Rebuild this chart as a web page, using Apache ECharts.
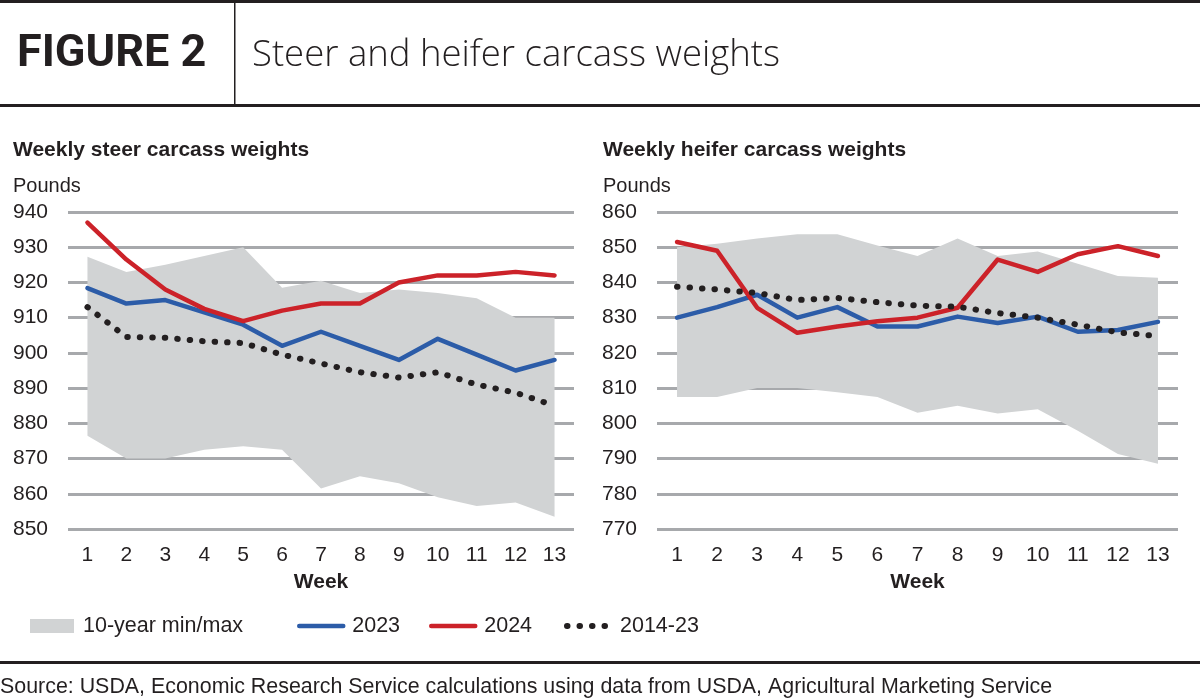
<!DOCTYPE html>
<html>
<head>
<meta charset="utf-8">
<script src="https://cdn.jsdelivr.net/npm/echarts@6/dist/echarts.min.js"></script>
<style>
	html, body { margin: 0; padding: 0; background: #fff; }
	#chart { width: 1200px; height: 699px; }
</style>
</head>
<body>
<div id="chart"></div>
<script>
// weeks 1-13
let weeks = ["1", "2", "3", "4", "5", "6", "7", "8", "9", "10", "11", "12", "13"];

// steers, pounds
let steerMin = [876.5, 870, 870, 872.5, 873.5, 872.5, 861.5, 865, 863, 859, 856.5, 857.5, 853.5];
let steerMax = [927.3, 923, 925, 927.5, 930, 918.5, 920.5, 917, 918, 917, 915.5, 910, 910];
let steer2023 = [918.4, 914, 915, 911.5, 908, 902, 906, 902, 898, 904, 899.5, 895, 898];
let steer2024 = [937, 926.5, 918, 912.5, 909, 912, 914, 914, 920, 922, 922, 923, 922];
let steerAvg = [913, 904.5, 904.3, 903.3, 902.8, 899.5, 897, 894.5, 893, 894.5, 891, 888.7, 885];

// heifers, pounds
let heiferMin = [807.5, 807.5, 810, 810, 808.8, 807.5, 803, 805, 802.8, 804, 797.9, 791.3, 788.5];
let heiferMax = [850, 851, 852.5, 853.7, 853.7, 850.5, 847.5, 852.5, 847.5, 848.8, 845.3, 841.8, 841.3];
let heifer2023 = [830, 833, 836.5, 830, 833, 827.5, 827.5, 830.3, 828.5, 830.3, 826, 826.5, 828.8];
let heifer2024 = [851.5, 849, 832.8, 825.7, 827.5, 829, 830, 832.8, 846.5, 843, 848, 850.3, 847.5];
let heiferAvg = [838.8, 838, 837, 835, 835.6, 834.4, 833.4, 833.1, 831.3, 830, 828, 825.8, 824.8];

let steerTicks = [850, 940, 10];
let heiferTicks = [770, 860, 10];

let ink = "#231f20";
let blue = "#2c5ca8";
let red = "#cc2229";
let band = "#d1d3d4";
let grid = "#a7a9ac";
let font = "Liberation Sans";

let chart = echarts.init(document.getElementById("chart"));

function makeX(idx) {
	return {
		type: "category",
		gridIndex: idx,
		data: weeks,
		boundaryGap: true,
		axisLine: { show: false },
		axisTick: { show: false },
		axisLabel: { color: ink, fontSize: 21, fontFamily: font, margin: 16 },
		name: "Week",
		nameLocation: "middle",
		nameGap: 43,
		nameTextStyle: { color: ink, fontSize: 21, fontWeight: "bold", fontFamily: font }
	};
}

function makeY(idx, ticks) {
	return {
		type: "value",
		gridIndex: idx,
		min: ticks[0],
		max: ticks[1],
		interval: ticks[2],
		axisLine: { show: false },
		axisTick: { show: false },
		axisLabel: { color: ink, fontSize: 21, fontFamily: font, margin: 20 },
		splitLine: { lineStyle: { color: grid, width: 3 } }
	};
}

// one chart = band (stacked) + 3 lines
function makeSeries(idx, mins, maxs, s23, s24, avg) {
	let stackName = "band" + idx;
	return [
		{
			name: "base" + idx, type: "line", xAxisIndex: idx, yAxisIndex: idx,
			stack: stackName, data: mins, symbol: "none", silent: true,
			lineStyle: { opacity: 0, width: 0 }
		},
		{
			name: "10-year min/max", type: "line", xAxisIndex: idx, yAxisIndex: idx,
			stack: stackName, data: maxs.map(function(v, i) { return +(v - mins[i]).toFixed(1); }),
			symbol: "none", color: band, silent: true,
			lineStyle: { opacity: 0, width: 0 },
			areaStyle: { color: band, opacity: 1 }
		},
		{
			name: "2023", type: "line", xAxisIndex: idx, yAxisIndex: idx,
			data: s23, symbol: "none", color: blue,
			lineStyle: { color: blue, width: 4.5, cap: "round", join: "round" }
		},
		{
			name: "2024", type: "line", xAxisIndex: idx, yAxisIndex: idx,
			data: s24, symbol: "none", color: red,
			lineStyle: { color: red, width: 4.5, cap: "round", join: "round" }
		},
		{
			name: "2014-23", type: "line", xAxisIndex: idx, yAxisIndex: idx,
			data: avg, symbol: "none", color: ink,
			lineStyle: { color: ink, width: 6, type: [0.5, 12], cap: "round" }
		}
	];
}

// separate legends so each item sits where the original has it
function makeLegend(left, item, hideSymbol) {
	return {
		left: left,
		top: 615,
		padding: 0,
		data: [item],
		itemWidth: 44,
		itemHeight: 14,
		itemGap: 0,
		selectedMode: false,
		textStyle: { color: ink, fontSize: 21.5, fontFamily: font, padding: [0, 0, 0, 4] },
		itemStyle: hideSymbol ? { opacity: 0 } : {},
		lineStyle: { width: item.name == "2014-23" ? 6 : 4.5 }
	};
}

let option = {
	animation: false,
	backgroundColor: "#fff",
	title: [
		{ text: "Weekly steer carcass weights", left: 8, top: 135,
			textStyle: { color: ink, fontSize: 21, fontWeight: "bold", fontFamily: font } },
		{ text: "Pounds", left: 8, top: 171,
			textStyle: { color: ink, fontSize: 20, fontWeight: "normal", fontFamily: font } },
		{ text: "Weekly heifer carcass weights", left: 598, top: 135,
			textStyle: { color: ink, fontSize: 21, fontWeight: "bold", fontFamily: font } },
		{ text: "Pounds", left: 598, top: 171,
			textStyle: { color: ink, fontSize: 20, fontWeight: "normal", fontFamily: font } }
	],
	legend: [
		makeLegend(30, { name: "10-year min/max", icon: "rect" }, false),
		makeLegend(297, { name: "2023" }, true),
		makeLegend(429, { name: "2024" }, true),
		makeLegend(564, { name: "2014-23" }, true)
	],
	grid: [
		{ left: 68, right: 626, top: 212, bottom: 170 },
		{ left: 657, right: 22, top: 212, bottom: 170 }
	],
	xAxis: [makeX(0), makeX(1)],
	yAxis: [makeY(0, steerTicks), makeY(1, heiferTicks)],
	series: makeSeries(0, steerMin, steerMax, steer2023, steer2024, steerAvg)
		.concat(makeSeries(1, heiferMin, heiferMax, heifer2023, heifer2024, heiferAvg)),
	graphic: [
		// header rules
		{ type: "rect", shape: { x: 0, y: 0, width: 1200, height: 3 }, style: { fill: ink } },
		{ type: "rect", shape: { x: 0, y: 104, width: 1200, height: 3 }, style: { fill: ink } },
		{ type: "rect", shape: { x: 234, y: 3, width: 1.5, height: 101 }, style: { fill: ink } },
		{ type: "text", x: 17, y: 55,
			style: { text: "FIGURE 2", fill: ink, font: "bold 45px Roboto", verticalAlign: "middle" } },
		{ type: "text", x: 252, y: 56,
			style: { text: "Steer and heifer carcass weights", fill: ink, font: "300 36.5px 'Open Sans'", verticalAlign: "middle" } },
		// footer
		{ type: "rect", shape: { x: 0, y: 661, width: 1200, height: 3 }, style: { fill: ink } },
		{ type: "text", x: 0, y: 687,
			style: { text: "Source: USDA, Economic Research Service calculations using data from USDA, Agricultural Marketing Service",
				fill: ink, font: "21.4px 'Liberation Sans'", verticalAlign: "middle" } }
	]
};

chart.setOption(option);
</script>
</body>
</html>
